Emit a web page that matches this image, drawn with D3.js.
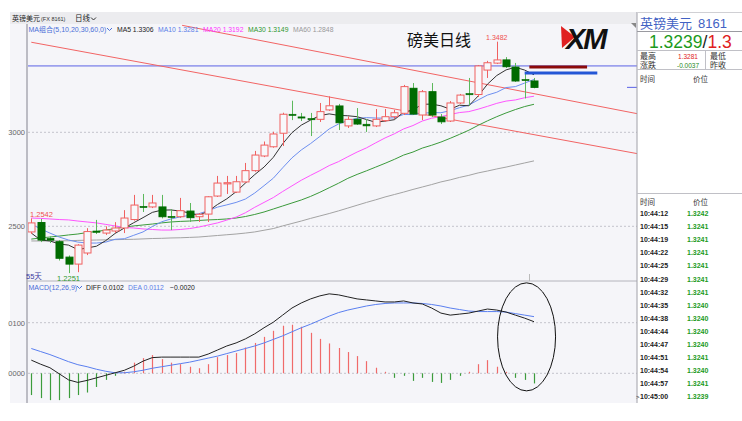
<!DOCTYPE html>
<html><head><meta charset="utf-8">
<script src="https://cdn.jsdelivr.net/npm/d3@7"></script>
<style>body{margin:0;background:#fff;}svg{display:block;}</style>
</head><body>
<svg id="c" width="742" height="421"></svg>
<script>
// ---------- DATA ----------
const opens  = [1.2470,1.2520,1.2436,1.2418,1.2336,1.2299,1.2358,1.2475,1.2464,1.2475,1.2491,1.2536,1.2606,1.2603,1.2603,1.2553,1.2551,1.2581,1.2551,1.2565,1.2661,1.2727,1.2682,1.2736,1.2796,1.2874,1.2923,1.2995,1.3096,1.3082,1.3073,1.3069,1.3119,1.3140,1.3034,1.3069,1.3043,1.3034,1.3062,1.3083,1.3101,1.3234,1.3092,1.3216,1.3081,1.3060,1.3156,1.3206,1.3201,1.3331,1.3368,1.3385,1.3347,1.3281,1.3273];
const highs  = [1.2542,1.2539,1.2446,1.2427,1.2345,1.2405,1.2490,1.2534,1.2500,1.2522,1.2586,1.2667,1.2672,1.2667,1.2667,1.2592,1.2651,1.2624,1.2570,1.2660,1.2768,1.2768,1.2768,1.2837,1.2901,1.2951,1.3003,1.3104,1.3168,1.3103,1.3103,1.3156,1.3191,1.3151,1.3085,1.3129,1.3071,1.3124,1.3124,1.3119,1.3252,1.3262,1.3225,1.3262,1.3097,1.3166,1.3204,1.3289,1.3358,1.3380,1.3482,1.3400,1.3369,1.3316,1.3289];
const lows   = [1.2459,1.2416,1.2411,1.2318,1.2251,1.2256,1.2347,1.2459,1.2454,1.2464,1.2464,1.2530,1.2576,1.2597,1.2542,1.2480,1.2545,1.2523,1.2523,1.2523,1.2656,1.2672,1.2677,1.2730,1.2790,1.2868,1.2918,1.2927,1.3065,1.3060,1.2980,1.3055,1.3114,1.3012,1.3023,1.3039,1.3002,1.3028,1.3055,1.3071,1.3092,1.3092,1.3065,1.3081,1.3044,1.3055,1.3151,1.3140,1.3188,1.3289,1.3363,1.3342,1.3268,1.3180,1.3234];
const closes = [1.2518,1.2427,1.2426,1.2330,1.2299,1.2400,1.2472,1.2468,1.2480,1.2491,1.2544,1.2613,1.2600,1.2624,1.2551,1.2549,1.2583,1.2546,1.2564,1.2657,1.2730,1.2732,1.2737,1.2796,1.2879,1.2932,1.2991,1.3096,1.3092,1.3078,1.3069,1.3110,1.3141,1.3051,1.3069,1.3044,1.3034,1.3069,1.3083,1.3104,1.3243,1.3097,1.3216,1.3092,1.3056,1.3156,1.3198,1.3202,1.3353,1.3370,1.3385,1.3349,1.3273,1.3276,1.3239];

const ma5  = [1.2464,1.2427,1.2422,1.2406,1.2400,1.2376,1.2385,1.2394,1.2424,1.2462,1.2491,1.2519,1.2546,1.2574,1.2586,1.2587,1.2581,1.2571,1.2559,1.2580,1.2616,1.2646,1.2684,1.2730,1.2775,1.2815,1.2867,1.2939,1.2998,1.3038,1.3065,1.3089,1.3098,1.3090,1.3088,1.3083,1.3068,1.3053,1.3060,1.3067,1.3107,1.3119,1.3149,1.3150,1.3141,1.3123,1.3144,1.3141,1.3193,1.3256,1.3302,1.3332,1.3346,1.3331,1.3306];
const ma10 = [1.2512,1.2486,1.2464,1.2443,1.2427,1.2416,1.2411,1.2411,1.2416,1.2431,1.2434,1.2452,1.2470,1.2499,1.2524,1.2539,1.2550,1.2558,1.2567,1.2583,1.2602,1.2614,1.2627,1.2645,1.2677,1.2716,1.2756,1.2811,1.2864,1.2906,1.2940,1.2978,1.3018,1.3044,1.3063,1.3074,1.3078,1.3076,1.3075,1.3077,1.3095,1.3094,1.3101,1.3105,1.3104,1.3115,1.3131,1.3145,1.3172,1.3198,1.3213,1.3238,1.3243,1.3262,1.3281];
const ma20 = [1.2544,1.2542,1.2539,1.2536,1.2534,1.2528,1.2523,1.2518,1.2510,1.2502,1.2494,1.2491,1.2486,1.2483,1.2480,1.2480,1.2483,1.2488,1.2496,1.2507,1.2518,1.2533,1.2549,1.2572,1.2601,1.2627,1.2653,1.2685,1.2715,1.2745,1.2771,1.2796,1.2823,1.2844,1.2870,1.2895,1.2917,1.2944,1.2970,1.2992,1.3018,1.3036,1.3060,1.3075,1.3083,1.3095,1.3105,1.3110,1.3123,1.3138,1.3154,1.3166,1.3172,1.3184,1.3192];
const ma30 = [1.2432,1.2438,1.2443,1.2448,1.2454,1.2459,1.2467,1.2472,1.2480,1.2488,1.2496,1.2502,1.2507,1.2512,1.2518,1.2523,1.2526,1.2528,1.2531,1.2534,1.2536,1.2539,1.2544,1.2552,1.2563,1.2576,1.2592,1.2608,1.2624,1.2640,1.2659,1.2681,1.2705,1.2729,1.2755,1.2776,1.2795,1.2815,1.2835,1.2856,1.2879,1.2895,1.2916,1.2931,1.2948,1.2968,1.2989,1.3011,1.3037,1.3061,1.3083,1.3103,1.3121,1.3137,1.3149];
const ma60 = [1.2422,1.2422,1.2422,1.2423,1.2423,1.2425,1.2426,1.2427,1.2428,1.2429,1.2430,1.2431,1.2433,1.2435,1.2436,1.2438,1.2439,1.2441,1.2443,1.2447,1.2451,1.2455,1.2459,1.2464,1.2470,1.2479,1.2488,1.2502,1.2515,1.2528,1.2542,1.2555,1.2568,1.2582,1.2597,1.2612,1.2627,1.2641,1.2656,1.2669,1.2682,1.2696,1.2709,1.2722,1.2736,1.2747,1.2760,1.2771,1.2784,1.2794,1.2805,1.2815,1.2826,1.2837,1.2848];

const diff = [0.0026,0.0018,0.0011,-0.0001,-0.0013,-0.0018,-0.0014,-0.0009,-0.0004,0.0001,0.0006,0.0014,0.0024,0.0031,0.0032,0.0032,0.0032,0.0032,0.0032,0.0038,0.0046,0.0054,0.0060,0.0068,0.0078,0.0090,0.0101,0.0115,0.0129,0.0139,0.0147,0.0153,0.0157,0.0155,0.0151,0.0147,0.0145,0.0143,0.0141,0.0141,0.0143,0.0139,0.0137,0.0129,0.0119,0.0115,0.0117,0.0119,0.0123,0.0127,0.0125,0.0121,0.0115,0.0109,0.0102];
const dea  = [0.0049,0.0043,0.0037,0.0030,0.0023,0.0017,0.0013,0.0008,0.0004,0.0001,0.0001,0.0003,0.0006,0.0010,0.0013,0.0016,0.0019,0.0022,0.0026,0.0030,0.0034,0.0039,0.0044,0.0049,0.0054,0.0060,0.0067,0.0074,0.0082,0.0090,0.0097,0.0105,0.0113,0.0120,0.0125,0.0129,0.0133,0.0136,0.0138,0.0139,0.0139,0.0139,0.0138,0.0136,0.0133,0.0129,0.0126,0.0123,0.0122,0.0122,0.0122,0.0121,0.0118,0.0115,0.0112];
const macdHist = [-0.0043,-0.0049,-0.0053,-0.0053,-0.0049,-0.0043,-0.0038,-0.0027,-0.0013,-0.0005,0.0003,0.0021,0.0030,0.0036,0.0028,0.0021,0.0018,0.0013,0.0010,0.0018,0.0032,0.0036,0.0040,0.0051,0.0060,0.0072,0.0084,0.0094,0.0096,0.0092,0.0080,0.0068,0.0059,0.0050,0.0042,0.0034,0.0024,0.0011,0.0003,-0.0009,-0.0005,-0.0015,-0.0009,-0.0017,-0.0019,-0.0013,-0.0005,0.0003,0.0018,0.0026,0.0013,0.0003,-0.0009,-0.0013,-0.0020];

const priceTicks = [1.25, 1.30];
const macdTicks  = [0.00, 0.01];
// user drawn trend lines: [index, price] endpoints
const trendLines = [[[0, 1.3479], [75.8, 1.2789]], [[16.2, 1.3569], [75.8, 1.2996]]];
const refLevel = 1.3353;
const resistSeg = [53.5, 59.7, 1.3348];
const supportSeg = [53.0, 60.8, 1.3315];

// quote panel
const quoteLast = "1.3239";
const quoteHigh = "1.3281";
const quoteChange = "-0.0037";
const tickTimes  = ["10:44:12","10:44:15","10:44:19","10:44:22","10:44:25","10:44:29","10:44:32","10:44:35","10:44:38","10:44:44","10:44:47","10:44:51","10:44:54","10:44:57","10:45:00"];
const tickPrices = ["1.3242","1.3241","1.3241","1.3241","1.3241","1.3241","1.3241","1.3240","1.3240","1.3240","1.3240","1.3241","1.3240","1.3241","1.3239"];

// ---------- DRAW ----------
const F = "'Liberation Sans','Noto Sans CJK SC',sans-serif";
const svg = d3.select("#c");
const N = closes.length;
const x = d3.scaleLinear().domain([0, N - 1]).range([31.3, 534]);
const y = d3.scaleLinear().domain([1.25, 1.30]).range([226.3, 132.3]);
const yM = d3.scaleLinear().domain([0, 0.01]).range([373.3, 322.7]);

svg.append("rect").attr("width", 742).attr("height", 421).attr("fill", "#fff");
svg.append("rect").attr("x", 10).attr("y", 12).attr("width", 627).attr("height", 391).attr("fill", "#f5f5f9");
svg.append("rect").attr("x", 10).attr("y", 12).attr("width", 627).attr("height", 12).attr("fill", "#ececef");

const defs = svg.append("defs");
defs.append("clipPath").attr("id", "cp").append("rect").attr("x", 28).attr("y", 24).attr("width", 609).attr("height", 256);
defs.append("clipPath").attr("id", "cm").append("rect").attr("x", 28).attr("y", 282).attr("width", 609).attr("height", 121);

function txt(px, py, s, o = {}) {
  return svg.append("text").attr("x", px).attr("y", py).text(s)
    .attr("font-family", F).attr("font-size", o.size || 7.5)
    .attr("fill", o.fill || "#222").attr("font-weight", o.weight || "normal")
    .attr("text-anchor", o.anchor || "start");
}
function chevron(px, py, c) {
  svg.append("path").attr("d", `M${px},${py} l2.5,2.5 l2.5,-2.5`).attr("fill", "none").attr("stroke", c).attr("stroke-width", 1);
}

// header
txt(12, 21, "英镑美元", {size: 7});
txt(41, 21, "(FX 8161)", {size: 5.5, fill: "#333"});
txt(75, 21, "日线", {size: 7.5});
chevron(91, 17.5, "#333");

// grid lines
const grid = svg.append("g").attr("stroke", "#c4c4cc").attr("stroke-dasharray", "2,2");
priceTicks.forEach(v => grid.append("line").attr("x1", 28).attr("x2", 637).attr("y1", y(v)).attr("y2", y(v)));
macdTicks.forEach(v => grid.append("line").attr("x1", 28).attr("x2", 637).attr("y1", yM(v)).attr("y2", yM(v)));

// axes
const fmt = d => d3.format(".4f")(d).slice(2);
const ax1 = svg.append("g").attr("transform", "translate(26,0)")
  .call(d3.axisLeft(y).tickValues(priceTicks).tickSize(0).tickPadding(1).tickFormat(fmt));
const ax2 = svg.append("g").attr("transform", "translate(26,0)")
  .call(d3.axisLeft(yM).tickValues(macdTicks).tickSize(0).tickPadding(1).tickFormat(fmt));
[ax1, ax2].forEach(a => {
  a.select(".domain").remove();
  a.selectAll("text").attr("font-family", F).attr("font-size", 7.5).attr("fill", "#666");
});
svg.append("line").attr("x1", 27).attr("x2", 27).attr("y1", 24).attr("y2", 403).attr("stroke", "#a9a9b2").attr("stroke-width", 1.5);
svg.append("line").attr("x1", 27).attr("x2", 637).attr("y1", 281).attr("y2", 281).attr("stroke", "#b4b4bc");

// price panel
const gp = svg.append("g").attr("clip-path", "url(#cp)");
gp.append("line").attr("x1", 28).attr("x2", 637).attr("y1", y(refLevel)).attr("y2", y(refLevel)).attr("stroke", "#5a62e6").attr("stroke-width", 1);
trendLines.forEach(t => gp.append("line")
  .attr("x1", x(t[0][0])).attr("y1", y(t[0][1])).attr("x2", x(t[1][0])).attr("y2", y(t[1][1]))
  .attr("stroke", "#f26464").attr("stroke-width", 1));

const line = arr => d3.line().x((d, i) => x(i)).y(d => y(d))(arr);
[[ma60, "#a3a3a3"], [ma30, "#3b9a3b"], [ma20, "#ff55ff"], [ma10, "#6d8ff0"], [ma5, "#333"]].forEach(([a, c]) =>
  gp.append("path").attr("d", line(a)).attr("fill", "none").attr("stroke", c).attr("stroke-width", 1));

const bw = 7;
const cg = gp.append("g");
d3.range(N).forEach(i => {
  const o = opens[i], c = closes[i], up = c >= o;
  const cx = Math.round(x(i)) + 0.5;
  const top = y(Math.max(o, c)), bot = y(Math.min(o, c));
  const h = Math.max(1.2, bot - top);
  cg.append("line").attr("x1", cx).attr("x2", cx).attr("y1", y(highs[i])).attr("y2", y(lows[i]))
    .attr("stroke", up ? "#f06060" : "#5cb85c").attr("stroke-width", 1);
  if (up) {
    cg.append("rect").attr("x", cx - bw / 2).attr("y", top).attr("width", bw).attr("height", h)
      .attr("fill", "#f8f8fb").attr("stroke", "#f06060").attr("stroke-width", 1);
  } else {
    cg.append("rect").attr("x", cx - bw / 2).attr("y", top).attr("width", bw).attr("height", h)
      .attr("fill", "#006b00").attr("stroke", "#006b00").attr("stroke-width", h < 2 ? 0.6 : 1);
  }
});

gp.append("line").attr("x1", x(resistSeg[0])).attr("x2", x(resistSeg[1])).attr("y1", y(resistSeg[2])).attr("y2", y(resistSeg[2]))
  .attr("stroke", "#8b0a0a").attr("stroke-width", 3);
gp.append("line").attr("x1", x(supportSeg[0])).attr("x2", x(supportSeg[1])).attr("y1", y(supportSeg[2])).attr("y2", y(supportSeg[2]))
  .attr("stroke", "#2456d6").attr("stroke-width", 3);
svg.append("line").attr("x1", 627).attr("x2", 637).attr("y1", y(closes[N - 1])).attr("y2", y(closes[N - 1])).attr("stroke", "#5a62e6");

// extreme labels
const iMax = d3.maxIndex(highs), iMin = d3.minIndex(lows);
txt(x(iMax), y(highs[iMax]) - 2, d3.format(".4f")(highs[iMax]), {size: 7, fill: "#f05050", anchor: "middle"});
txt(x(iMin), y(lows[iMin]) + 7.5, d3.format(".4f")(lows[iMin]), {size: 7.5, fill: "#2f9a2f", anchor: "middle"});
txt(30, y(highs[0]) - 1.5, d3.format(".4f")(highs[0]), {size: 7.5, fill: "#f05050"});
txt(26, 279, N + "天", {size: 7.5, fill: "#3b3ba0"});
svg.append("line").attr("x1", 529.5).attr("x2", 529.5).attr("y1", 274).attr("y2", 281).attr("stroke", "#bbb");

// MA legend
txt(28.5, 31.5, "MA组合(5,10,20,30,60,0)", {size: 7, fill: "#4a6fd8"});
chevron(107, 28, "#4a6fd8");
const maLeg = [["MA5", ma5, "#222", 117], ["MA10", ma10, "#5b80e8", 158], ["MA20", ma20, "#ff33ff", 203], ["MA30", ma30, "#2e962e", 248], ["MA60", ma60, "#999", 293]];
maLeg.forEach(([n, a, c, px]) => txt(px, 31.5, n + " " + d3.format(".4f")(a[N - 1]), {size: 6.8, fill: c}));

// title and logo
txt(407, 46, "磅美日线", {size: 16, fill: "#111"});
svg.append("path").attr("d", "M561,26 L575,37 L562,48 Z").attr("fill", "#e02020");
txt(566, 49, "XM", {size: 29, fill: "#111", weight: "bold"}).attr("font-style", "italic").attr("letter-spacing", -2);

// MACD panel
const gm = svg.append("g").attr("clip-path", "url(#cm)");
macdHist.forEach((v, i) => {
  const cx = Math.round(x(i)) + 0.5;
  gm.append("line").attr("x1", cx).attr("x2", cx).attr("y1", yM(0)).attr("y2", yM(v))
    .attr("stroke", v >= 0 ? "#f06a6a" : "#3c9c3c").attr("stroke-width", 1.2);
});
const lineM = arr => d3.line().x((d, i) => x(i)).y(d => yM(d))(arr);
gm.append("path").attr("d", lineM(dea)).attr("fill", "none").attr("stroke", "#5a7ff0").attr("stroke-width", 1);
gm.append("path").attr("d", lineM(diff)).attr("fill", "none").attr("stroke", "#222").attr("stroke-width", 1);
gm.append("ellipse").attr("cx", x(53.2)).attr("cy", yM(0.0072)).attr("rx", 29).attr("ry", 54)
  .attr("fill", "none").attr("stroke", "#111").attr("stroke-width", 1);

txt(28.5, 289.5, "MACD(12,26,9)", {size: 7, fill: "#4a6fd8"});
chevron(77, 286, "#4a6fd8");
txt(86, 289.5, "DIFF " + d3.format(".4f")(diff[N - 1]), {size: 6.8, fill: "#222"});
txt(128, 289.5, "DEA " + d3.format(".4f")(dea[N - 1]), {size: 6.8, fill: "#5b80e8"});
txt(170, 289.5, d3.format(".4f")(macdHist[N - 1]), {size: 6.8, fill: "#222"});

// right quote panel
svg.append("rect").attr("x", 637).attr("y", 12).attr("width", 105).attr("height", 391).attr("fill", "#fff");
svg.append("line").attr("x1", 637).attr("x2", 637).attr("y1", 12).attr("y2", 403).attr("stroke", "#a0a0a8");
svg.append("path").attr("d", "M631,23 L636,23 L636,28 Z").attr("fill", "#888");
const rl = (yy, c = "#c8c8cc") => svg.append("line").attr("x1", 637).attr("x2", 742).attr("y1", yy).attr("y2", yy).attr("stroke", c);
rl(12.5, "#d0d0d4"); rl(31.5, "#9a9aa0"); rl(50.5, "#c0c0c6"); rl(69.5, "#c0c0c6"); rl(193.5, "#c0c0c6");
svg.append("line").attr("x1", 705.5).attr("x2", 705.5).attr("y1", 51).attr("y2", 69).attr("stroke", "#c0c0c6");
txt(640, 28, "英镑美元", {size: 13, fill: "#4262c4"});
txt(698, 28, "8161", {size: 13, fill: "#4262c4"});
const big = svg.append("text").attr("x", 649).attr("y", 48).attr("font-family", F).attr("font-size", 17.5);
big.append("tspan").text(quoteLast).attr("fill", "#1c9a1c");
big.append("tspan").text("/").attr("fill", "#222");
big.append("tspan").text("1.3").attr("fill", "#e02020");
txt(640, 59, "最高", {size: 8, fill: "#333"});
txt(688, 59, quoteHigh, {size: 6.5, fill: "#e02020", anchor: "middle"});
txt(710, 59, "最低", {size: 8, fill: "#333"});
txt(640, 67.5, "涨跌", {size: 8, fill: "#333"});
txt(688, 67.5, quoteChange, {size: 6.5, fill: "#1c8a1c", anchor: "middle"});
txt(710, 67.5, "昨收", {size: 8, fill: "#333"});
txt(640, 82, "时间", {size: 7.5, fill: "#333"});
txt(693, 82, "价位", {size: 7.5, fill: "#333"});
txt(640, 205, "时间", {size: 7.5, fill: "#333"});
txt(693, 205, "价位", {size: 7.5, fill: "#333"});
tickTimes.forEach((t, k) => {
  const yy = 216 + 13.1 * k;
  txt(640, yy, t, {size: 7, fill: "#222", weight: "bold"});
  txt(687, yy, tickPrices[k], {size: 7, fill: "#1c9a1c", weight: "bold"});
});
txt(636, 216 + 13.1 * 14, ">", {size: 6, fill: "#222"});
</script>
</body></html>
